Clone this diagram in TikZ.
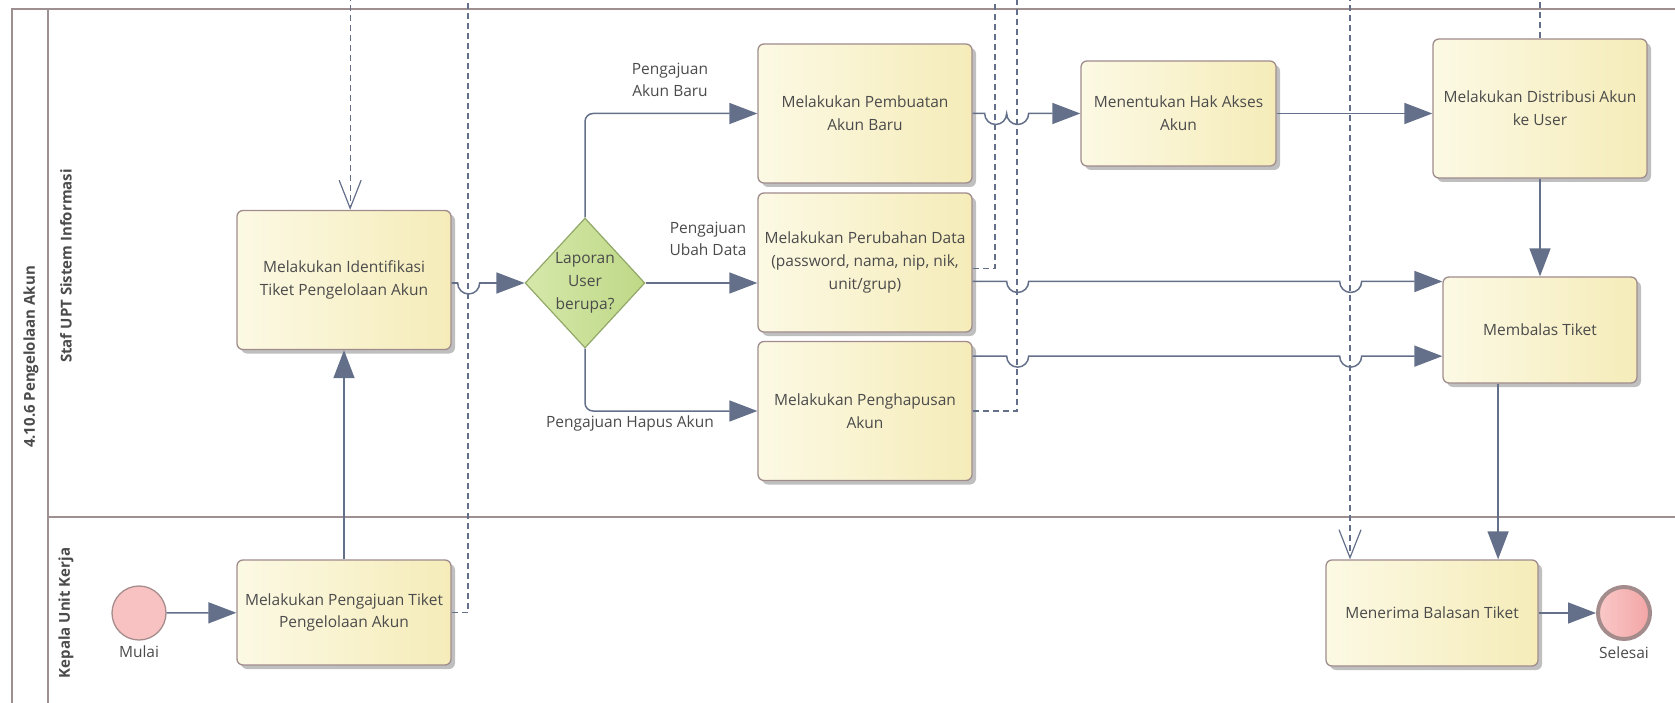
\documentclass[tikz,border=0pt]{standalone}
\usepackage{fontspec}
\setmainfont{Open Sans}
\usetikzlibrary{arrows.meta,shapes.geometric,shadows}
\definecolor{flowline}{RGB}{100,112,138}
\definecolor{framegray}{RGB}{158,144,144}
\definecolor{textgray}{RGB}{75,75,75}
\definecolor{taskborder}{RGB}{160,140,140}
\definecolor{tasklight}{RGB}{252,249,228}
\definecolor{taskdark}{RGB}{245,236,185}
\definecolor{gateborder}{RGB}{145,168,105}
\definecolor{gatelight}{RGB}{214,232,170}
\definecolor{gatedark}{RGB}{190,216,135}
\definecolor{eventborder}{RGB}{165,140,140}
\definecolor{startfill}{RGB}{249,194,194}
\definecolor{endlight}{RGB}{250,200,200}
\definecolor{enddark}{RGB}{243,165,165}

\begin{document}
\begin{tikzpicture}[x=1pt,y=-1pt,font=\fontsize{15.5}{22.7}\selectfont,text=textgray,
    task/.style={draw=taskborder,line width=1.3pt,rounded corners=6pt,left color=tasklight,right color=taskdark,
        align=center,inner sep=0pt,minimum width=214pt,minimum height=139pt,
        drop shadow={shadow xshift=4pt,shadow yshift=-4pt,opacity=0.25,fill=black}},
    gate/.style={diamond,draw=gateborder,line width=1.2pt,left color=gatelight,right color=gatedark,
        align=center,inner sep=0pt,minimum width=118pt,minimum height=130pt},
    startev/.style={circle,draw=eventborder,line width=1.3pt,fill=startfill,minimum size=54pt,inner sep=0pt},
    endev/.style={circle,draw=eventborder,line width=4pt,left color=endlight,right color=enddark,minimum size=52pt,inner sep=0pt},
    flow/.style={draw,color=flowline,line width=1.5pt,-{Triangle[length=28pt,width=21pt]}},
    msg/.style={draw,color=flowline,line width=1.2pt,dash pattern=on 6pt off 4pt},
    msgin/.style={msg,-{Straight Barb[length=28pt,width=22pt]}},
    lane/.style={draw=framegray,line width=2.5pt},
    lanetext/.style={rotate=90,font=\fontsize{15}{18}\selectfont\bfseries}]
                \useasboundingbox(0,0)rectangle(1675,703);
                \draw[lane](12,710)|-(1680,9);
                \draw[lane](48,9)--(48,710);
                \draw[lane](48,517)--(1680,517);
                \node[lanetext](pool)at(31, 357){4.10.6 Pengelolaan Akun};
                \node[lanetext](staf)at(66, 266){Staf UPT Sistem Informasi};
                \node[lanetext](kepala)at(66, 613){Kepala Unit Kerja};
                \coordinate(atas)at(0, -5);
                \coordinate(ajutop)at(468, -5);
                \coordinate(ubahtop)at(995, -5);
                \coordinate(hapustop)at(1017, -5);
                \coordinate(terimatop)at(1350, -5);
                \node[startev,label={[label distance=2pt]below:Mulai}](mulai)at(139, 613){};
                \node[task,minimum height=105pt](pengajuan)at(344, 612.5){Melakukan Pengajuan Tiket\\Pengelolaan Akun};
                \node[task](identifikasi)at(344, 280){Melakukan Identifikasi\\Tiket Pengelolaan Akun};
                \node[gate](laporan)at(585, 283){Laporan\\User\\berupa?};
                \node[task](pembuatan)at(865, 113.5){Melakukan Pembuatan\\Akun Baru};
                \node[task](perubahan)at(865, 262.5){Melakukan Perubahan Data\\(password, nama, nip, nik,\\unit/grup)};
                \node[task](penghapusan)at(865, 411){Melakukan Penghapusan\\Akun};
                \node[task,minimum width=195pt,minimum height=105pt](menentukan)at(1178.5, 113.5){Menentukan Hak Akses\\Akun};
                \node[task](distribusi)at(1540, 108.5){Melakukan Distribusi Akun\\ke User};
                \node[task,minimum width=194pt,minimum height=106pt](membalas)at(1540, 330){Membalas Tiket};
                \node[task,minimum width=212pt,minimum height=106pt](menerima)at(1432, 613){Menerima Balasan Tiket};
                \node[endev,label={[label distance=2pt]below:Selesai}](selesai)at(1624, 613){};
                \node[align=center](lbbaru)at(670, 80){Pengajuan\\Akun Baru};
                \node[align=center](lbubah)at(708, 239){Pengajuan\\Ubah Data};
                \node(lbhapus)at(630, 423){Pengajuan Hapus Akun};
                \draw[msgin](identifikasi.85 |- atas)--(identifikasi.85);
                \draw[msg](pengajuan.east)-|(ajutop);
                \draw[msg](perubahan.-3)-|(ubahtop);
                \draw[msg](penghapusan.east)-|(hapustop);
                \draw[msg](distribusi.north)--(distribusi.north |- atas);
                \draw[msgin](terimatop)--(terimatop |- menerima.north);
                \path(mulai) edge[flow] (pengajuan)
                (pengajuan) edge[flow] (identifikasi)
                (distribusi) edge[flow] (membalas)
                (menerima) edge[flow] (selesai);
                \draw[flow](identifikasi.east |- laporan.west)--++(6,0)arc[start angle=180,end angle=360,radius=11pt]--(laporan.west);
                \draw[flow,rounded corners=8pt](laporan.north)|-(pembuatan.west);
                \draw[flow](laporan.east)--(perubahan.west |- laporan.east);
                \draw[flow,rounded corners=8pt](laporan.south)|-(penghapusan.west);
                \draw[flow](pembuatan.east)--++(12,0)arc[start angle=180,end angle=360,radius=11pt]
                    arc[start angle=180,end angle=360,radius=11pt]--(menentukan.west);
                \draw[flow](menentukan.east)--(distribusi.west |- menentukan.east);
                \draw[flow](perubahan.-10)--++(34,0)arc[start angle=180,end angle=360,radius=11pt]
                    --++(311,0)arc[start angle=180,end angle=360,radius=11pt]--(membalas.west |- perubahan.-10);
                \draw[flow](penghapusan.27)--++(34,0)arc[start angle=180,end angle=360,radius=11pt]
                    --++(311,0)arc[start angle=180,end angle=360,radius=11pt]--(membalas.west |- penghapusan.27);
                \draw[flow](membalas.232)--(membalas.232 |- menerima.north);
\end{tikzpicture}
\end{document}
